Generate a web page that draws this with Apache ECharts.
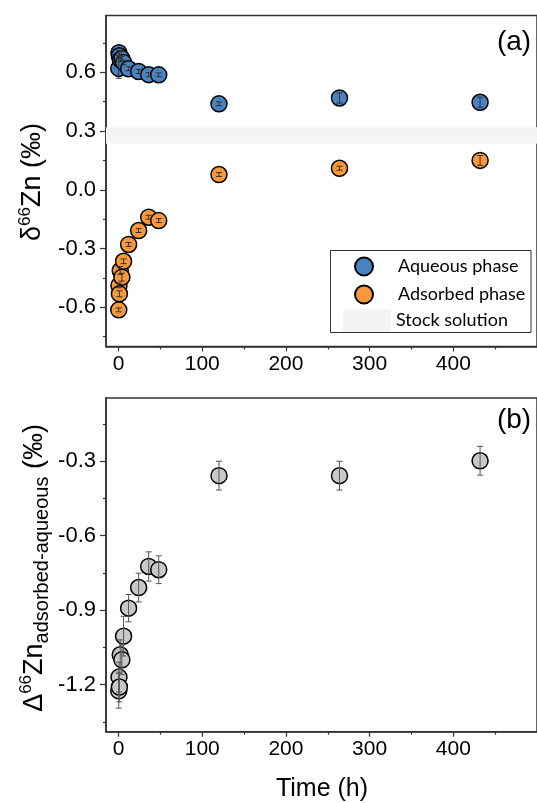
<!DOCTYPE html>
<html>
<head>
<meta charset="utf-8">
<title>Zn isotopes</title>
<script src="https://cdn.jsdelivr.net/npm/echarts@6/dist/echarts.min.js"></script>
<style>
  html, body { margin: 0; padding: 0; background: #fff; }
  #grafico { width: 537px; height: 803px; }
</style>
</head>
<body>
<div id="grafico"></div>
<script>
// Tiempos de muestreo (h)
var tiempos = [0.25, 0.5, 1, 2, 4, 6, 12, 24, 36, 48, 120, 264, 432];

// (a) δ66Zn de la fase acuosa y de la fase adsorbida (‰)
var acuosa = [0.62, 0.70, 0.685, 0.665, 0.67, 0.65, 0.618, 0.604, 0.588, 0.587, 0.439, 0.469, 0.447];
var acuosaErr = [0.05, 0.012, 0.015, 0.012, 0.012, 0.012, 0.01, 0.01, 0.01, 0.01, 0.01, 0.026, 0.026];
var adsorbida = [-0.613, -0.488, -0.531, -0.412, -0.446, -0.365, -0.279, -0.208, -0.140, -0.157, 0.078, 0.110, 0.150];
var adsorbidaErr = [0.01, 0.012, 0.015, 0.02, 0.02, 0.012, 0.01, 0.01, 0.01, 0.01, 0.01, 0.01, 0.025];
// Banda de la solución stock (min, max)
var solucionStock = [0.235, 0.32];

// (b) Δ66Zn adsorbida-acuosa (‰)
var delta = [-1.225, -1.17, -1.21, -1.08, -1.10, -1.005, -0.892, -0.809, -0.724, -0.737, -0.358, -0.358, -0.298];
var deltaErr = [0.07, 0.06, 0.06, 0.06, 0.06, 0.08, 0.055, 0.058, 0.059, 0.056, 0.058, 0.058, 0.058];

// Marcas de los ejes
var ticksX = [0, 100, 200, 300, 400];
var ticksXMenores = [50, 150, 250, 350, 450];
var ticksA = [-0.6, -0.3, 0, 0.3, 0.6];
var ticksAMenores = [-0.75, -0.45, -0.15, 0.15, 0.45, 0.75];
var ticksB = [-1.2, -0.9, -0.6, -0.3];
var ticksBMenores = [-1.35, -1.05, -0.75, -0.45, -0.15];

var colorEje = '#333';
var fuente = "'Liberation Sans', Arial, sans-serif";

function pares(valores, errores) {
    return tiempos.map(function (t, i) { return [t, valores[i], errores[i]]; });
}

function ejeX(grid, marcas) {
    return {
        type: 'value', gridIndex: grid, min: -15, max: 500, position: 'bottom',
        axisLine: { onZero: false, lineStyle: { color: colorEje, width: 1.5 } },
        axisTick: { customValues: marcas, length: 5, lineStyle: { color: colorEje, width: 1.2 } },
        axisLabel: { customValues: marcas, fontSize: 21, fontFamily: fuente, color: '#000', margin: 7 },
        splitLine: { show: false }
    };
}

function ejeY(grid, min, max, marcas) {
    return {
        type: 'value', gridIndex: grid, min: min, max: max, position: 'left',
        axisLine: { onZero: false, lineStyle: { color: colorEje, width: 1.5 } },
        axisTick: { customValues: marcas, length: 6, lineStyle: { color: colorEje, width: 1.2 } },
        axisLabel: {
            customValues: marcas, fontSize: 22, fontFamily: fuente, color: '#000', margin: 10,
            formatter: function (v) { return v.toFixed(1); }
        },
        splitLine: { show: false }
    };
}

// Ejes superpuestos solo para las marcas menores
function menor(eje, marcas) {
    eje.axisLine = { show: false, onZero: false };
    eje.axisLabel = { show: false };
    eje.axisTick = { customValues: marcas, length: 3, lineStyle: { color: colorEje, width: 1.2 } };
    return eje;
}

// Barras de error verticales
function barrasError(color) {
    return function (params, api) {
        var x = api.value(0), y = api.value(1), e = api.value(2);
        var arriba = api.coord([x, y + e]);
        var abajo = api.coord([x, y - e]);
        var w = 3;
        var estilo = { stroke: color, lineWidth: 1 };
        return {
            type: 'group',
            children: [
                { type: 'line', shape: { x1: arriba[0], y1: arriba[1], x2: abajo[0], y2: abajo[1] }, style: estilo },
                { type: 'line', shape: { x1: arriba[0] - w, y1: arriba[1], x2: arriba[0] + w, y2: arriba[1] }, style: estilo },
                { type: 'line', shape: { x1: abajo[0] - w, y1: abajo[1], x2: abajo[0] + w, y2: abajo[1] }, style: estilo }
            ]
        };
    };
}

function puntos(nombre, grid, datos, color) {
    return {
        name: nombre, type: 'scatter', xAxisIndex: grid, yAxisIndex: grid,
        data: datos, symbol: 'circle', symbolSize: 16, z: 3,
        itemStyle: { color: color, borderColor: '#000', borderWidth: 1.5, opacity: 1 }
    };
}

function errores(grid, datos, color) {
    return {
        type: 'custom', xAxisIndex: grid, yAxisIndex: grid, data: datos, z: 4,
        renderItem: barrasError(color), encode: { x: 0, y: 1 }, silent: true
    };
}

var textoLeyenda = { fontFamily: 'Lato', fontSize: 18, color: '#000', lineHeight: 18 };

var grafico = echarts.init(document.getElementById('grafico'), null, { renderer: 'canvas' });

var opciones = {
    animation: false,
    backgroundColor: '#fff',
    grid: [
        { left: 106, top: 15.5, width: 448, height: 331, show: true, borderColor: colorEje, borderWidth: 1.5 },
        { left: 106, top: 398, width: 448, height: 333.7, show: true, borderColor: colorEje, borderWidth: 1.5 }
    ],
    xAxis: [
        ejeX(0, ticksX),
        ejeX(1, ticksX),
        menor(ejeX(0, ticksXMenores), ticksXMenores),
        menor(ejeX(1, ticksXMenores), ticksXMenores)
    ],
    yAxis: [
        ejeY(0, -0.8, 0.89, ticksA),
        ejeY(1, -1.39, -0.045, ticksB),
        menor(ejeY(0, -0.8, 0.89, ticksAMenores), ticksAMenores),
        menor(ejeY(1, -1.39, -0.045, ticksBMenores), ticksBMenores)
    ],
    legend: [
        {
            data: ['Aqueous phase', 'Adsorbed phase'], orient: 'vertical', left: 354, top: 256.5,
            padding: 0, itemWidth: 18, itemHeight: 18, itemGap: 8, selectedMode: false,
            formatter: function (nombre) { return '{t|' + nombre + '}'; },
            textStyle: {
                fontFamily: 'Lato', fontSize: 18, color: '#000', lineHeight: 18,
                rich: { t: { fontFamily: 'Lato', fontSize: 18, color: '#000', lineHeight: 18, padding: [0, 0, 0, 20] } }
            }
        },
        {
            data: [{ name: 'Stock solution', icon: 'rect', itemStyle: { color: '#f4f4f4' } }],
            left: 343, top: 309, padding: 0, itemWidth: 48, itemHeight: 23, selectedMode: false,
            textStyle: textoLeyenda
        }
    ],
    graphic: [
        { type: 'rect', shape: { x: 330.5, y: 250.5, width: 200.5, height: 82 }, style: { fill: 'none', stroke: colorEje, lineWidth: 1 }, z: 10 },
        {
            type: 'text', x: 33, y: 182, rotation: Math.PI / 2,
            style: {
                text: '{a|δ}{s|66}{a|Zn (‰)}', align: 'center', verticalAlign: 'middle',
                rich: {
                    a: { fontSize: 27, fontFamily: fuente, fill: '#000', lineHeight: 32 },
                    s: { fontSize: 17, fontFamily: fuente, fill: '#000', verticalAlign: 'top', lineHeight: 17 }
                }
            }
        },
        {
            type: 'text', x: 35, y: 568, rotation: Math.PI / 2,
            style: {
                text: '{a|Δ}{s|66}{a|Zn}{b|adsorbed-aqueous}{a| (‰)}', align: 'center', verticalAlign: 'middle',
                rich: {
                    a: { fontSize: 27, fontFamily: fuente, fill: '#000', lineHeight: 34 },
                    s: { fontSize: 17, fontFamily: fuente, fill: '#000', verticalAlign: 'top', lineHeight: 17 },
                    b: { fontSize: 20, fontFamily: fuente, fill: '#000', verticalAlign: 'bottom', lineHeight: 20 }
                }
            }
        },
        { type: 'text', x: 322, y: 789, style: { text: 'Time (h)', font: '25px ' + fuente, fill: '#000', align: 'center', verticalAlign: 'middle' } },
        { type: 'text', x: 514, y: 42, style: { text: '(a)', font: '28px ' + fuente, fill: '#000', align: 'center', verticalAlign: 'middle' } },
        { type: 'text', x: 514, y: 420, style: { text: '(b)', font: '28px ' + fuente, fill: '#000', align: 'center', verticalAlign: 'middle' } }
    ],
    series: [
        {
            name: 'Stock solution', type: 'line', xAxisIndex: 0, yAxisIndex: 0, data: [],
            color: '#f4f4f4',
            markArea: {
                silent: true, itemStyle: { color: '#f4f4f4' },
                data: [[{ yAxis: solucionStock[0] }, { yAxis: solucionStock[1] }]]
            }
        },
        puntos('Aqueous phase', 0, pares(acuosa, acuosaErr), '#4a83c0'),
        errores(0, pares(acuosa, acuosaErr), '#333'),
        puntos('Adsorbed phase', 0, pares(adsorbida, adsorbidaErr), '#f7983a'),
        errores(0, pares(adsorbida, adsorbidaErr), '#333'),
        puntos('Δ66Zn', 1, pares(delta, deltaErr), '#c8c8c8'),
        errores(1, pares(delta, deltaErr), '#555')
    ]
};

grafico.setOption(opciones);
</script>
</body>
</html>
